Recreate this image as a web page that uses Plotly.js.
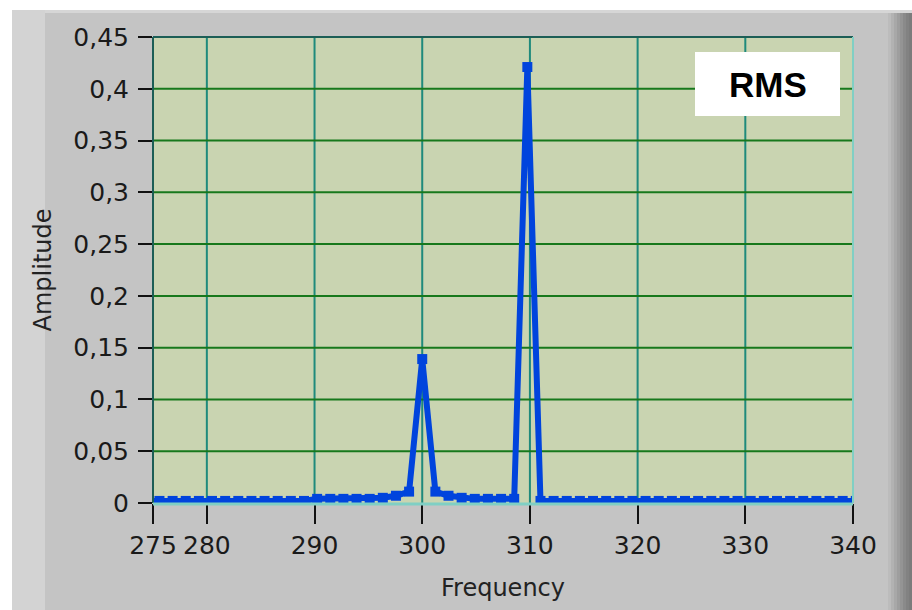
<!DOCTYPE html>
<html>
<head>
<meta charset="utf-8">
<script src="https://cdn.plot.ly/plotly-3.0.1.min.js"></script>
<style>
html,body{margin:0;padding:0;background:#ffffff;}
#chart{width:912px;height:610px;}
</style>
</head>
<body>
<div id="chart"></div>
<script>
// Data
const frequency = [274.38, 275.60, 276.82, 278.04, 279.26, 280.48, 281.70, 282.92, 284.14, 285.36,
  286.58, 287.80, 289.02, 290.24, 291.46, 292.68, 293.90, 295.12, 296.34, 297.56,
  298.78, 300.00, 301.22, 302.44, 303.66, 304.88, 306.10, 307.32, 308.54, 309.76,
  310.98, 312.20, 313.42, 314.64, 315.86, 317.08, 318.30, 319.52, 320.74, 321.96,
  323.18, 324.40, 325.62, 326.84, 328.06, 329.28, 330.50, 331.72, 332.94, 334.16,
  335.38, 336.60, 337.82, 339.04, 340.26];
const amplitude = [0.002, 0.002, 0.002, 0.002, 0.002, 0.002, 0.002, 0.002, 0.002, 0.002,
  0.002, 0.002, 0.002, 0.004, 0.004, 0.004, 0.004, 0.004, 0.005, 0.007,
  0.011, 0.139, 0.011, 0.007, 0.005, 0.004, 0.004, 0.004, 0.004, 0.421,
  0.002, 0.002, 0.002, 0.002, 0.002, 0.002, 0.002, 0.002, 0.002, 0.002,
  0.002, 0.002, 0.002, 0.002, 0.002, 0.002, 0.002, 0.002, 0.002, 0.002,
  0.002, 0.002, 0.002, 0.002, 0.002];
const xTickVals = [275, 280, 290, 300, 310, 320, 330, 340];
const xTickText = ["275", "280", "290", "300", "310", "320", "330", "340"];
const yTickVals = [0, 0.05, 0.1, 0.15, 0.2, 0.25, 0.3, 0.35, 0.4, 0.45];
const yTickText = ["0", "0,05", "0,1", "0,15", "0,2", "0,25", "0,3", "0,35", "0,4", "0,45"];
const xGrid = [280, 290, 300, 310, 320, 330];
const yGrid = [0.05, 0.1, 0.15, 0.2, 0.25, 0.3, 0.35, 0.4];
const legendLabel = "RMS";

// Layout geometry (pixels)
const W = 912, H = 610;
const L = 153, R = 853, T = 37, B = 503;
const px = x => (x - L) / (R - L);
const py = y => (B - y) / (B - T);

const shapes = [];
// white surround (top strip, left strip)
shapes.push({type:'rect', xref:'paper', yref:'paper', x0:px(0), x1:px(912), y0:py(10), y1:py(0), fillcolor:'#ffffff', line:{width:0}, layer:'below'});
shapes.push({type:'rect', xref:'paper', yref:'paper', x0:px(0), x1:px(12), y0:py(610), y1:py(0), fillcolor:'#ffffff', line:{width:0}, layer:'below'});
// lighter top edge and left strip of the panel
shapes.push({type:'rect', xref:'paper', yref:'paper', x0:px(12), x1:px(912), y0:py(13), y1:py(10), fillcolor:'#d6d6d6', line:{width:0}, layer:'below'});
shapes.push({type:'rect', xref:'paper', yref:'paper', x0:px(12), x1:px(45), y0:py(610), y1:py(10), fillcolor:'#d3d3d3', line:{width:0}, layer:'below'});
// right dark gradient strip
const grad = ['#bcbcbc','#b2b2b2','#a8a8a8','#9e9e9e','#949494','#8a8a8a','#828282','#7c7c7c'];
grad.forEach((c,i)=>{
  shapes.push({type:'rect', xref:'paper', yref:'paper', x0:px(888+i*3), x1:px(891+i*3+(i===grad.length-1?3:0)), y0:py(610), y1:py(13), fillcolor:c, line:{width:0}, layer:'below'});
});
// grid lines
xGrid.forEach(v=>shapes.push({type:'line', xref:'x', yref:'paper', x0:v, x1:v, y0:0, y1:1, line:{color:'#1f8a7c', width:2}, layer:'below'}));
yGrid.forEach(v=>shapes.push({type:'line', xref:'paper', yref:'y', x0:0, x1:1, y0:v, y1:v, line:{color:'#17781c', width:2}, layer:'below'}));
// plot border
shapes.push({type:'line', xref:'paper', yref:'paper', x0:0, x1:1, y0:1, y1:1, line:{color:'#1c5e56', width:2}});
shapes.push({type:'line', xref:'paper', yref:'paper', x0:0, x1:0, y0:0, y1:1, line:{color:'#1c5e56', width:2}});
shapes.push({type:'line', xref:'paper', yref:'paper', x0:1, x1:1, y0:0, y1:1, line:{color:'#80cfc4', width:2}});
shapes.push({type:'line', xref:'paper', yref:'paper', x0:0, x1:1, y0:py(504), y1:py(504), line:{color:'#80cfc4', width:3}});
// legend box
shapes.push({type:'rect', xref:'paper', yref:'paper', x0:px(695), x1:px(840), y0:py(116), y1:py(52), fillcolor:'#ffffff', line:{width:0}});

const trace = {
  x: frequency, y: amplitude, type:'scatter', mode:'lines+markers',
  line:{color:'#0044dd', width:6},
  marker:{color:'#0044dd', size:10, symbol:'square'},
  hoverinfo:'skip'
};

const tickFont = {family:'DejaVu Sans, sans-serif', size:25, color:'#1a1a1a'};
const layout = {
  width:W, height:H,
  margin:{l:L, r:W-R, t:T, b:H-B, pad:0},
  paper_bgcolor:'#c4c4c4',
  plot_bgcolor:'#c9d4b1',
  showlegend:false,
  separators:',.',
  xaxis:{
    range:[275, 340], tickvals:xTickVals, ticktext:xTickText,
    showgrid:false, zeroline:false, showline:false,
    ticks:'outside', ticklen:20, tickwidth:2, tickcolor:'#111',
    tickfont:tickFont,
    title:{text:'Frequency', font:{family:'DejaVu Sans, sans-serif', size:24, color:'#222'}, standoff:20}
  },
  yaxis:{
    range:[0, 0.45], tickvals:yTickVals, ticktext:yTickText,
    showgrid:false, zeroline:false, showline:false,
    ticks:'outside', ticklen:14, tickwidth:2, tickcolor:'#111',
    ticklabelstandoff:4,
    tickfont:tickFont,
    title:{text:'Amplitude', font:{family:'DejaVu Sans, sans-serif', size:24, color:'#222'}, standoff:14}
  },
  shapes:shapes,
  annotations:[{
    xref:'paper', yref:'paper', x:px(767.5), y:py(85), text:'<b>'+legendLabel+'</b>',
    showarrow:false, xanchor:'center', yanchor:'middle',
    font:{family:'Liberation Sans, Arial, sans-serif', size:35, color:'#000'}
  }]
};

Plotly.newPlot('chart', [trace], layout, {staticPlot:true, displayModeBar:false});
</script>
</body>
</html>
